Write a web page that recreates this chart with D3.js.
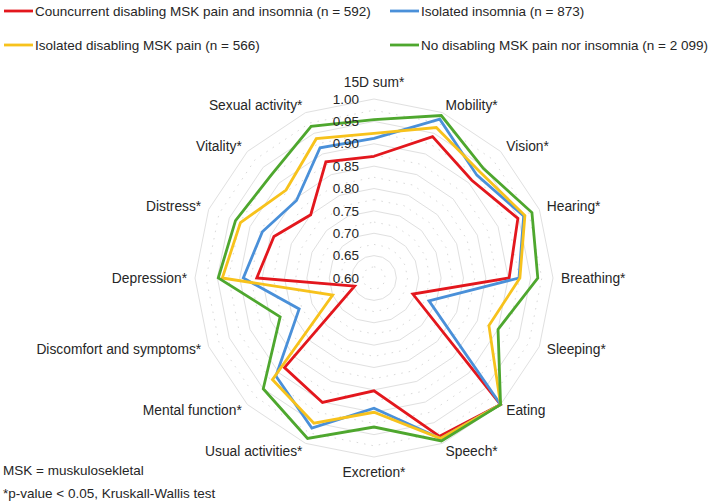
<!DOCTYPE html>
<html>
<head>
<meta charset="utf-8">
<script src="https://cdn.jsdelivr.net/npm/d3@7"></script>
<style>
  body { margin: 0; background: #fff; }
  text { font-family: "Liberation Sans", Arial, sans-serif; fill: #262626; }
</style>
</head>
<body>
<div id="wrapper"></div>
<script>
// data
const categories = ["15D sum*", "Mobility*", "Vision*", "Hearing*", "Breathing*", "Sleeping*",
  "Eating", "Speech*", "Excretion*", "Usual activities*", "Mental function*",
  "Discomfort and symptoms*", "Depression*", "Distress*", "Vitality*", "Sexual activity*"]

const seriesNames = [
  "Councurrent disabling MSK pain and insomnia (n = 592)",
  "Isolated insomnia (n = 873)",
  "Isolated disabling MSK pain (n = 566)",
  "No disabling MSK pain nor insomnia (n = 2 099)"
]
const seriesColors = ["#e3171d", "#4a90d9", "#f7c21c", "#4ea72e"]

const concurrent = [0.872, 0.942, 0.909, 0.948, 0.902, 0.694, 1.00, 0.983, 0.852, 0.901, 0.883, 0.647, 0.862, 0.842, 0.800, 0.881]
const insomnia   = [0.912, 0.984, 0.925, 0.962, 0.924, 0.733, 1.00, 0.988, 0.891, 0.963, 0.910, 0.781, 0.892, 0.870, 0.845, 0.915]
const mskPain    = [0.923, 0.964, 0.935, 0.965, 0.926, 0.878, 1.00, 0.988, 0.900, 0.951, 0.921, 0.700, 0.939, 0.923, 0.878, 0.937]
const neither    = [0.954, 0.993, 0.946, 0.982, 0.966, 0.900, 1.00, 0.994, 0.933, 0.988, 0.950, 0.827, 0.948, 0.935, 0.925, 0.967]
const seriesValues = [concurrent, insomnia, mskPain, neither]

const tickValues = [0.60, 0.65, 0.70, 0.75, 0.80, 0.85, 0.90, 0.95, 1.00]
const minorTicks = [0.625, 0.675, 0.725, 0.775, 0.825, 0.875, 0.925, 0.975]

const notes = ["MSK = muskulosekletal", "*p-value < 0.05, Kruskall-Wallis test"]

// dimensions
const width = 709
const height = 503
const cx = 374
const cy = 278
const R = 179

const svg = d3.select("#wrapper")
  .append("svg")
  .attr("width", width)
  .attr("height", height)

const rScale = d3.scaleLinear()
  .domain([0.60, 1.00])
  .range([0, R])

const angle = d3.scaleLinear()
  .domain([0, categories.length])
  .range([0, 2 * Math.PI])

const pt = (i, v) => {
  const a = angle(i)
  const r = rScale(v)
  return [cx + r * Math.sin(a), cy - r * Math.cos(a)]
}

const ringPath = v => d3.line()(categories.map((c, i) => pt(i, v))) + "Z"

const chart = svg.append("g")

// gridlines
chart.selectAll(".minor")
  .data(minorTicks)
  .join("path")
  .attr("d", ringPath)
  .attr("fill", "none")
  .attr("stroke", "#d9d9d9")
  .attr("stroke-width", 1)
  .attr("stroke-dasharray", "1.5 6")

chart.selectAll(".major")
  .data(tickValues.slice(1))
  .join("path")
  .attr("d", ringPath)
  .attr("fill", "none")
  .attr("stroke", "#e0e0e0")
  .attr("stroke-width", 1)

// series
const lineGen = d3.line()
  .x((d, i) => pt(i, d)[0])
  .y((d, i) => pt(i, d)[1])
  .curve(d3.curveLinearClosed)

chart.selectAll(".series")
  .data(seriesValues)
  .join("path")
  .attr("d", d => lineGen(d))
  .attr("fill", "none")
  .attr("stroke", (d, i) => seriesColors[i])
  .attr("stroke-width", 2.8)
  .attr("stroke-linejoin", "miter")

// radial tick labels
chart.selectAll(".tick")
  .data(tickValues)
  .join("text")
  .attr("x", cx - 15)
  .attr("y", d => cy - rScale(d))
  .attr("dy", "0.35em")
  .attr("text-anchor", "end")
  .style("font-size", "13.5px")
  .text(d => d3.format(".2f")(d))

// category labels
chart.selectAll(".cat")
  .data(categories)
  .join("text")
  .each(function(d, i) {
    const a = angle(i)
    const s = Math.sin(a)
    const c = Math.cos(a)
    const el = d3.select(this)
    if (Math.abs(s) < 0.01) {
      const r = R + (c > 0 ? 12 : 10)
      el.attr("x", cx)
        .attr("y", cy - r * c)
        .attr("text-anchor", "middle")
        .attr("dy", c > 0 ? "0" : "0.75em")
    } else {
      const r = R + 8
      el.attr("x", cx + r * s)
        .attr("y", cy - r * c)
        .attr("text-anchor", s > 0 ? "start" : "end")
        .attr("dy", "0.35em")
    }
  })
  .style("font-size", "13.8px")
  .text(d => d)

// legend
const legendPos = [[4, 11], [390, 11], [4, 45], [390, 45]]
const legend = svg.append("g")
  .selectAll("g")
  .data(seriesNames)
  .join("g")
  .attr("transform", (d, i) => `translate(${legendPos[i][0]},${legendPos[i][1]})`)

legend.append("line")
  .attr("x1", 0)
  .attr("x2", 29)
  .attr("stroke", (d, i) => seriesColors[i])
  .attr("stroke-width", 2.8)

legend.append("text")
  .attr("x", 31)
  .attr("dy", "0.35em")
  .style("font-size", "13.5px")
  .text(d => d)

// notes
svg.selectAll(".note")
  .data(notes)
  .join("text")
  .attr("x", 3)
  .attr("y", (d, i) => 470 + i * 23)
  .attr("dy", "0.35em")
  .style("font-size", "13.5px")
  .text(d => d)
</script>
</body>
</html>
